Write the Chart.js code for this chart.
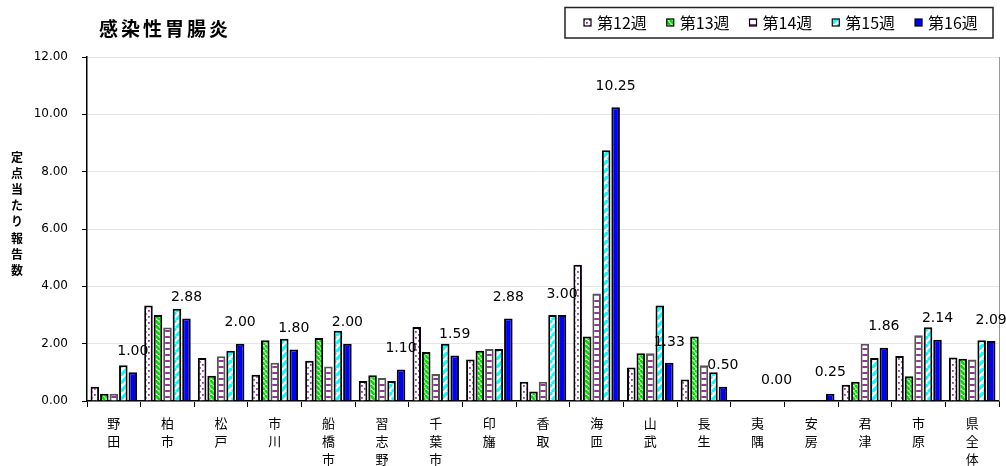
<!DOCTYPE html>
<html lang="ja">
<head>
<meta charset="utf-8">
<title>感染性胃腸炎</title>
<script src="https://cdn.jsdelivr.net/npm/chart.js@4.4.1/dist/chart.umd.min.js"></script>
<style>
  html, body { margin: 0; padding: 0; background: #fff; }
  #wrap { position: relative; width: 1006px; height: 466px; }
</style>
</head>
<body>
<div id="wrap"><canvas id="grafica"></canvas></div>
<script>
// 保健所別 定点当たり報告数（第12週～第16週）
const areas = [["野","田"],["柏","市"],["松","戸"],["市","川"],["船","橋","市"],["習","志","野"],["千","葉","市"],["印","旛"],["香","取"],["海","匝"],["山","武"],["長","生"],["夷","隅"],["安","房"],["君","津"],["市","原"],["県","全","体"]];
const weeks = ["第12週", "第13週", "第14週", "第15週", "第16週"];
const w12 = [0.50, 3.33, 1.50, 0.92, 1.40, 0.70, 2.58, 1.45, 0.67, 4.75, 1.17, 0.75, 0, 0, 0.57, 1.57, 1.52];
const w13 = [0.25, 3.00, 0.88, 2.12, 2.20, 0.90, 1.71, 1.75, 0.33, 2.25, 1.67, 2.25, 0, 0, 0.67, 0.86, 1.47];
const w14 = [0.25, 2.56, 1.56, 1.33, 1.20, 0.80, 0.94, 1.81, 0.67, 3.75, 1.67, 1.25, 0, 0, 2.00, 2.29, 1.45];
const w15 = [1.25, 3.22, 1.75, 2.17, 2.45, 0.70, 2.00, 1.81, 3.00, 8.75, 3.33, 1.00, 0, 0, 1.50, 2.57, 2.12];
const w16 = [1.00, 2.88, 2.00, 1.80, 2.00, 1.10, 1.59, 2.88, 3.00, 10.25, 1.33, 0.50, 0.00, 0.25, 1.86, 2.14, 2.09];
const yTicks = [0, 2, 4, 6, 8, 10, 12];

const CJK = "'Noto Sans CJK JP', sans-serif";

// Patrones de relleno para las barras
function patron(tipo) {
  const c = document.createElement("canvas");
  const g = c.getContext("2d");
  if (tipo === "puntos") {
    c.width = 6; c.height = 6;
    g.fillStyle = "#fff"; g.fillRect(0, 0, 6, 6);
    g.fillStyle = "#9933aa";
    g.fillRect(1, 1, 1.8, 1.8);
    g.fillRect(4, 4, 1.8, 1.8);
  } else if (tipo === "rayas") {
    c.width = 4; c.height = 6;
    g.fillStyle = "#fff"; g.fillRect(0, 0, 4, 6);
    g.fillStyle = "#993399";
    g.fillRect(0, 0, 4, 2);
  } else {
    const n = tipo === "verde" ? 5 : 8;
    c.width = n; c.height = n;
    g.fillStyle = "#fff"; g.fillRect(0, 0, n, n);
    g.strokeStyle = tipo === "verde" ? "#00e000" : "#00ffff";
    g.lineWidth = tipo === "verde" ? 2.8 : 3.2;
    for (let k = -n; k <= n; k += n) {
      g.beginPath();
      if (tipo === "verde") { g.moveTo(k, 0); g.lineTo(k + n, n); }
      else { g.moveTo(k, n); g.lineTo(k + n, 0); }
      g.stroke();
    }
  }
  return g.createPattern(c, "repeat");
}

const fills = [patron("puntos"), patron("verde"), patron("rayas"), patron("cian"), "#0000ff"];
const series = [w12, w13, w14, w15, w16];

const extras = {
  id: "extras",
  afterDraw(chart) {
    const ctx = chart.ctx;
    const area = chart.chartArea;
    ctx.save();

    // borde derecho del área
    ctx.strokeStyle = "#999";
    ctx.lineWidth = 1;
    ctx.beginPath();
    ctx.moveTo(area.right + 0.5, area.top);
    ctx.lineTo(area.right + 0.5, area.bottom);
    ctx.stroke();

    // etiquetas de valor del 第16週
    const meta = chart.getDatasetMeta(4);
    ctx.fillStyle = "#000";
    ctx.font = "14px 'DejaVu Sans'";
    ctx.textAlign = "center";
    ctx.textBaseline = "middle";
    meta.data.forEach((bar, i) => {
      ctx.fillText(w16[i].toFixed(2), bar.x, bar.y - 21);
    });

    // título
    ctx.textAlign = "left";
    ctx.font = "bold 19px " + CJK;
    ctx.letterSpacing = "3px";
    ctx.fillText("感染性胃腸炎", 99, 29);
    ctx.letterSpacing = "0px";

    // título del eje Y (vertical)
    ctx.textAlign = "center";
    ctx.font = "bold 12px " + CJK;
    [..."定点当たり報告数"].forEach((ch, i) => {
      ctx.fillText(ch, 17, 157 + i * 16.2);
    });

    // leyenda con recuadro
    ctx.strokeStyle = "#222";
    ctx.lineWidth = 1.5;
    ctx.strokeRect(565, 7.5, 428, 30.5);
    ctx.font = "16px " + CJK;
    ctx.textAlign = "left";
    let x = 584;
    chart.data.datasets.forEach(ds => {
      ctx.fillStyle = ds.backgroundColor;
      ctx.fillRect(x, 19, 7, 7);
      ctx.strokeStyle = "#000";
      ctx.lineWidth = 1.2;
      ctx.strokeRect(x, 19, 7, 7);
      ctx.fillStyle = "#000";
      ctx.fillText(ds.label, x + 13, 23);
      x += 13 + ctx.measureText(ds.label).width + 20;
    });

    ctx.restore();
  }
};

new Chart(document.getElementById("grafica"), {
  type: "bar",
  data: {
    labels: areas,
    datasets: weeks.map((w, i) => ({
      label: w,
      data: series[i],
      backgroundColor: fills[i],
      borderColor: i === 2 ? "#555" : "#000",
      borderWidth: 2,
      categoryPercentage: 0.885,
      barPercentage: 0.9
    }))
  },
  options: {
    responsive: true,
    maintainAspectRatio: false,
    animation: false,
    layout: { padding: { top: 57, right: 7, left: 0, bottom: 0 } },
    plugins: {
      legend: { display: false },
      title: { display: false },
      tooltip: { enabled: false }
    },
    scales: {
      x: {
        afterFit: s => { s.height = 65; },
        grid: { drawOnChartArea: false, offset: true, tickColor: "#000", tickLength: 6, lineWidth: 1 },
        border: { color: "#000", width: 1.5 },
        ticks: {
          color: "#000",
          padding: 7,
          maxRotation: 0,
          autoSkip: false,
          font: { family: CJK, size: 13, lineHeight: 18 / 13 }
        }
      },
      y: {
        min: 0,
        max: 12,
        afterFit: s => { s.width = 87; },
        afterBuildTicks: s => { s.ticks = yTicks.map(v => ({ value: v })); },
        grid: { color: "#e6e6e6", tickColor: "#000", tickLength: 5 },
        border: { color: "#000", width: 1.5 },
        ticks: {
          color: "#000",
          padding: 14,
          font: { family: "'DejaVu Sans'", size: 12 },
          callback: v => Number(v).toFixed(2)
        }
      }
    }
  },
  plugins: [extras]
});
</script>
</body>
</html>
